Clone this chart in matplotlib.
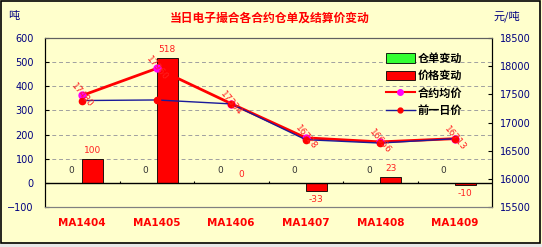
import matplotlib
matplotlib.use("Agg")
import matplotlib.pyplot as plt
import numpy as np
from matplotlib.patches import Rectangle
from matplotlib.lines import Line2D
from matplotlib.patches import Patch

plt.rcParams['font.family'] = ['Noto Sans CJK SC', 'DejaVu Sans']

categories = ["MA1404", "MA1405", "MA1406", "MA1407", "MA1408", "MA1409"]
warrant_change = [0, 0, 0, 0, 0, 0]
price_change = [100, 518, 0, -33, 23, -10]
avg_price = [17480, 17960, 17334, 16728, 16656, 16713]
prev_price = [17390, 17400, 17330, 16695, 16635, 16713]

bg = "#FFFFCC"
fig = plt.figure(figsize=(5.42, 2.47), dpi=100, facecolor=bg)
ax = fig.add_axes([45/542, 1-207/247, 447/542, 169/247])
ax.set_facecolor(bg)
ax2 = ax.twinx()

x = np.arange(len(categories))
w = 0.28
ax.bar(x - w/2, warrant_change, w, color="#33FF33", edgecolor="black", linewidth=0.6, zorder=3)
ax.bar(x + w/2, price_change, w, color="#FF0000", edgecolor="black", linewidth=0.6, zorder=3)

for xi, v in zip(x, warrant_change):
    ax.annotate(str(v), (xi - w*0.55, v), xytext=(0, 6), textcoords="offset points",
                ha="center", va="bottom", fontsize=6.5, color="#333333", family="DejaVu Sans")
for xi, v in zip(x, price_change):
    if v >= 0:
        ax.annotate(str(v), (xi + w/2, v), xytext=(0, 3), textcoords="offset points",
                    ha="center", va="bottom", fontsize=6.5, color="#FF2020", family="DejaVu Sans")
    else:
        ax.annotate(str(v), (xi + w/2, v), xytext=(0, -3), textcoords="offset points",
                    ha="center", va="top", fontsize=6.5, color="#FF2020", family="DejaVu Sans")

ax.set_ylim(-100, 600)
ax.set_yticks(np.arange(-100, 601, 100))
ax.set_xlim(-0.5, len(categories) - 0.5)
ax.set_xticks(x)
ax.set_xticklabels(categories, color="#FF0000", fontsize=7.5, fontweight="bold", family="DejaVu Sans")
ax.tick_params(axis="x", length=0, pad=8)
ax.tick_params(axis="y", labelsize=7, labelcolor="#000080", length=3, direction="in", pad=8)
for lab in ax.get_yticklabels():
    lab.set_family("DejaVu Sans")
for yv in range(100, 600, 100):
    ax.axhline(yv, color="#A0A0A0", linestyle=(0, (4, 3)), linewidth=0.7, zorder=1)
ax.axhline(0, color="black", linewidth=1.0, zorder=4)
ax.vlines(np.arange(0.5, len(categories) - 0.5), 0, 8, color="black", linewidth=0.8, zorder=4)

ax2.plot(x, avg_price, color="#FF0000", linewidth=2, marker="o", markersize=5,
         markerfacecolor="#FF00FF", markeredgecolor="#FF00FF", zorder=5)
ax2.plot(x, prev_price, color="#1A1A9A", linewidth=1, marker="o", markersize=4.5,
         markerfacecolor="#FF0000", markeredgecolor="#FF0000", zorder=6)
for xi, v in zip(x, avg_price):
    ax2.text(xi, v, str(v), rotation=-50, ha="center", va="center", fontsize=6.5,
             color="#FF2020", family="DejaVu Sans", zorder=7, rotation_mode="anchor")
ax2.set_ylim(15500, 18500)
ax2.set_yticks(np.arange(15500, 18501, 500))
ax2.tick_params(axis="y", labelsize=7, labelcolor="#000080", length=3, direction="in", pad=6)
for lab in ax2.get_yticklabels():
    lab.set_family("DejaVu Sans")

for a in (ax, ax2):
    a.spines["left"].set_color("black")
    a.spines["right"].set_color("black")
    a.spines["top"].set_color("#606060")
    a.spines["bottom"].set_color("#808080")
    for s in a.spines.values():
        s.set_linewidth(0.8)

handles = [Patch(facecolor="#33FF33", edgecolor="black", linewidth=0.6),
           Patch(facecolor="#FF0000", edgecolor="black", linewidth=0.6),
           Line2D([], [], color="#FF0000", linewidth=1.5, marker="o", markersize=4,
                  markerfacecolor="#FF00FF", markeredgecolor="#FF00FF"),
           Line2D([], [], color="#1A1A9A", linewidth=1, marker="o", markersize=3.5,
                  markerfacecolor="#FF0000", markeredgecolor="#FF0000")]
labels = ["仓单变动", "价格变动", "合约均价", "前一日价"]
leg = ax2.legend(handles, labels, loc="upper left", bbox_to_anchor=(333/447, 1 - 6/169),
                 frameon=False, prop={"size": 8, "weight": "bold"},
                 handlelength=2.6, handleheight=0.9, handletextpad=0.3,
                 labelspacing=0.4, borderpad=0.2)

fig.text(270/542, 1 - 18/247, "当日电子撮合各合约仓单及结算价变动", color="#FF0000",
         fontsize=8.5, fontweight="bold", ha="center", va="center")
fig.text(14/542, 1 - 16/247, "吨", color="#000080", fontsize=8, ha="center", va="center")
fig.text(507/542, 1 - 16/247, "元/吨", color="#000080", fontsize=8, ha="center", va="center")

fig.patches.append(Rectangle((0, 0), 1, 3/247, transform=fig.transFigure,
                             facecolor="#E8E8E8", edgecolor="none"))
fig.patches.append(Rectangle((0.002, 4/247), 0.994, 242/247, transform=fig.transFigure,
                             fill=False, edgecolor="black", linewidth=1.2))

fig.savefig("out.png", dpi=100, facecolor=bg)
